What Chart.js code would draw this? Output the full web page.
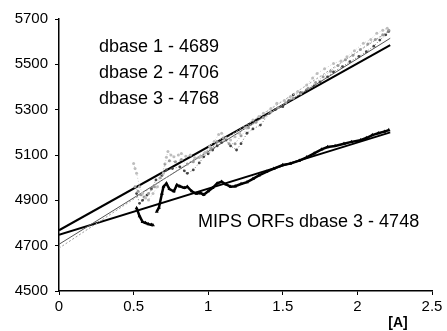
<!DOCTYPE html>
<html>
<head>
<meta charset="UTF-8">
<script src="https://cdn.jsdelivr.net/npm/chart.js"></script>
<style>
  * { margin: 0; padding: 0; box-sizing: border-box; }
  body { background: #fff; width: 447px; height: 331px; overflow: hidden; }
  .wrap { position: relative; width: 447px; height: 331px; }
</style>
</head>
<body>
<div class="wrap"><canvas id="chart" width="447" height="331"></canvas></div>
<script>
// axis ticks
const xTicks = [0, 0.5, 1, 1.5, 2, 2.5];
const yTicks = [4500, 4700, 4900, 5100, 5300, 5500, 5700];

// dbase 1 (light grey points, upper edge of band)
const db1X = [0.50,0.51,0.52,0.54,0.56,0.58,0.60,0.63,0.66,0.70,0.72,0.73,0.75,0.77,0.80,0.82,0.85,0.88,0.91,0.95,0.98,1.01,1.04,1.07,1.09,1.12,1.15,1.18,1.21,1.25,1.30,1.34,1.37,1.42,1.46,1.51,1.55,1.60,1.66,1.70,1.73,1.78,1.84,1.89,1.93,1.98,2.04,2.09,2.13,2.17,2.20];
const db1Y = [5063,5040,5019,4960,4931,4910,4901,4930,4960,5019,5090,5115,5100,5092,5100,5107,5095,5100,5088,5092,5110,5137,5160,5190,5196,5175,5166,5180,5196,5220,5254,5270,5284,5305,5328,5340,5357,5380,5409,5440,5460,5480,5504,5515,5534,5560,5593,5610,5637,5650,5659];

// dbase 2 (grey points, middle of band)
const db2X = [0.51,0.53,0.55,0.57,0.60,0.64,0.68,0.71,0.74,0.78,0.82,0.86,0.90,0.94,0.98,1.02,1.06,1.10,1.14,1.18,1.22,1.27,1.32,1.37,1.42,1.47,1.52,1.57,1.62,1.67,1.72,1.77,1.82,1.87,1.92,1.97,2.02,2.07,2.12,2.17,2.21];
const db2Y = [4960,4940,4925,4915,4930,4960,5000,5060,5075,5070,5080,5060,5070,5090,5110,5130,5160,5175,5150,5150,5185,5220,5245,5265,5290,5310,5330,5350,5370,5395,5420,5445,5470,5495,5520,5540,5565,5590,5610,5630,5650];

// dbase 3 (dark points, lower edge of band)
const db3X = [0.52,0.54,0.56,0.59,0.62,0.65,0.69,0.72,0.76,0.81,0.84,0.86,0.90,0.94,0.97,1.00,1.03,1.06,1.09,1.12,1.15,1.19,1.22,1.26,1.30,1.35,1.41,1.45,1.50,1.54,1.57,1.62,1.66,1.71,1.75,1.80,1.84,1.90,1.95,2.01,2.06,2.11,2.15,2.19,2.21];
const db3Y = [4930,4887,4900,4923,4950,4990,5010,5034,5040,5048,5030,5019,5034,5065,5092,5105,5122,5140,5155,5166,5140,5122,5150,5196,5215,5232,5284,5300,5313,5340,5365,5375,5387,5405,5423,5445,5467,5490,5512,5535,5556,5580,5607,5630,5645];

// MIPS ORFs dbase 3 (black triangles); null = gap
const mipsX = [0.52,0.54,0.56,0.58,0.60,0.62,0.63,0.645,0.655,0.67,0.69,0.70,0.72,0.74,0.77,0.79,0.81,0.84,0.86,0.89,0.92,0.95,0.97,1.00,1.03,1.06,1.09,1.12,1.15,1.18,1.22,1.26,1.30,1.34,1.39,1.44,1.50,1.55,1.61,1.66,1.71,1.76,1.80,1.85,1.91,1.96,2.02,2.06,2.10,2.14,2.18,2.21];
const mipsY = [4866,4830,4805,4800,4795,4792,4790,null,4850,4868,4930,4960,4975,4950,4940,4968,4962,4955,4960,4940,4930,4932,4925,4940,4955,4975,4982,4970,4960,4962,4972,4980,4995,5010,5026,5040,5056,5062,5075,5090,5107,5125,5135,5140,5150,5158,5165,5175,5188,5196,5203,5210];

// fitted lines: [x start, x end] and values at those x
const fitX = [0, 2.22];
const fitDb1 = [4689, 5650];
const fitDb2 = [4706, 5615];
const fitDb3 = [4768, 5585];
const fitMips = [4748, 5200];

const labels = ['dbase 1 - 4689', 'dbase 2 - 4706', 'dbase 3 - 4768'];
const mipsLabel = 'MIPS ORFs dbase 3 - 4748';
const unitLabel = '[A]';

const pts = (xs, ys) => xs.map((x, i) => ({ x: x, y: ys[i] }));

const FONT = '"Liberation Sans", Arial, sans-serif';

const textPlugin = {
  id: 'texts',
  afterDraw(chart) {
    const ctx = chart.ctx, sx = chart.scales.x, sy = chart.scales.y;
    ctx.save();
    ctx.fillStyle = '#000';
    ctx.font = '18px ' + FONT;
    ctx.textAlign = 'left';
    ctx.textBaseline = 'middle';
    const lineY = [5576, 5462, 5347];
    labels.forEach((t, i) => ctx.fillText(t, sx.getPixelForValue(0.268), sy.getPixelForValue(lineY[i])));
    ctx.fillText(mipsLabel, sx.getPixelForValue(0.932), sy.getPixelForValue(4804));
    ctx.font = 'bold 14px ' + FONT;
    ctx.textAlign = 'center';
    ctx.fillText(unitLabel, sx.getPixelForValue(2.272), chart.chartArea.bottom + 32);
    ctx.restore();
  }
};

new Chart(document.getElementById('chart'), {
  type: 'scatter',
  data: {
    datasets: [
      { data: pts(db1X, db1Y), showLine: true, borderColor: '#cfcfcf', borderWidth: 1, borderDash: [1, 2], pointRadius: 1.5, pointBackgroundColor: '#bdbdbd', pointBorderWidth: 0 },
      { data: pts(db2X, db2Y), showLine: true, borderColor: '#b0b0b0', borderWidth: 1, borderDash: [1, 2], pointRadius: 1.5, pointBackgroundColor: '#9a9a9a', pointBorderWidth: 0 },
      { data: pts(db3X, db3Y), showLine: true, borderColor: '#777', borderWidth: 1, borderDash: [1, 2], pointRadius: 1.4, pointBackgroundColor: '#444', pointBorderWidth: 0 },
      { data: pts(mipsX, mipsY), showLine: true, spanGaps: false, borderColor: '#000', borderWidth: 2.5, pointStyle: 'triangle', pointRadius: 2.2, pointBackgroundColor: '#000', pointBorderWidth: 0 },
      { data: pts(fitX, fitDb1), showLine: true, borderColor: '#999', borderWidth: 1, borderDash: [2, 2], pointRadius: 0 },
      { data: pts(fitX, fitDb2), showLine: true, borderColor: '#555', borderWidth: 1, pointRadius: 0 },
      { data: pts(fitX, fitDb3), showLine: true, borderColor: '#000', borderWidth: 2, pointRadius: 0 },
      { data: pts(fitX, fitMips), showLine: true, borderColor: '#000', borderWidth: 2, pointRadius: 0 }
    ]
  },
  options: {
    responsive: false,
    animation: false,
    layout: { padding: { left: 0, top: 19, right: 15, bottom: 0 } },
    plugins: { legend: { display: false }, tooltip: { enabled: false } },
    scales: {
      x: {
        type: 'linear', min: 0, max: 2.5,
        afterBuildTicks: s => { s.ticks = xTicks.map(v => ({ value: v })); },
        afterFit: s => { s.height = 40; },
        grid: { drawOnChartArea: false, drawTicks: true, tickLength: 4, color: '#000' },
        border: { display: true, color: '#000', width: 1.5 },
        ticks: { color: '#000', font: { family: FONT, size: 15 }, padding: 3, maxRotation: 0, callback: v => String(v) }
      },
      y: {
        type: 'linear', min: 4500, max: 5700,
        afterBuildTicks: s => { s.ticks = yTicks.map(v => ({ value: v })); },
        afterFit: s => { s.width = 59; },
        grid: { drawOnChartArea: false, drawTicks: true, tickLength: 4, color: '#000' },
        border: { display: true, color: '#000', width: 1.5 },
        ticks: { color: '#000', font: { family: FONT, size: 15 }, padding: 7, callback: v => String(v) }
      }
    }
  },
  plugins: [textPlugin]
});
</script>
</body>
</html>
